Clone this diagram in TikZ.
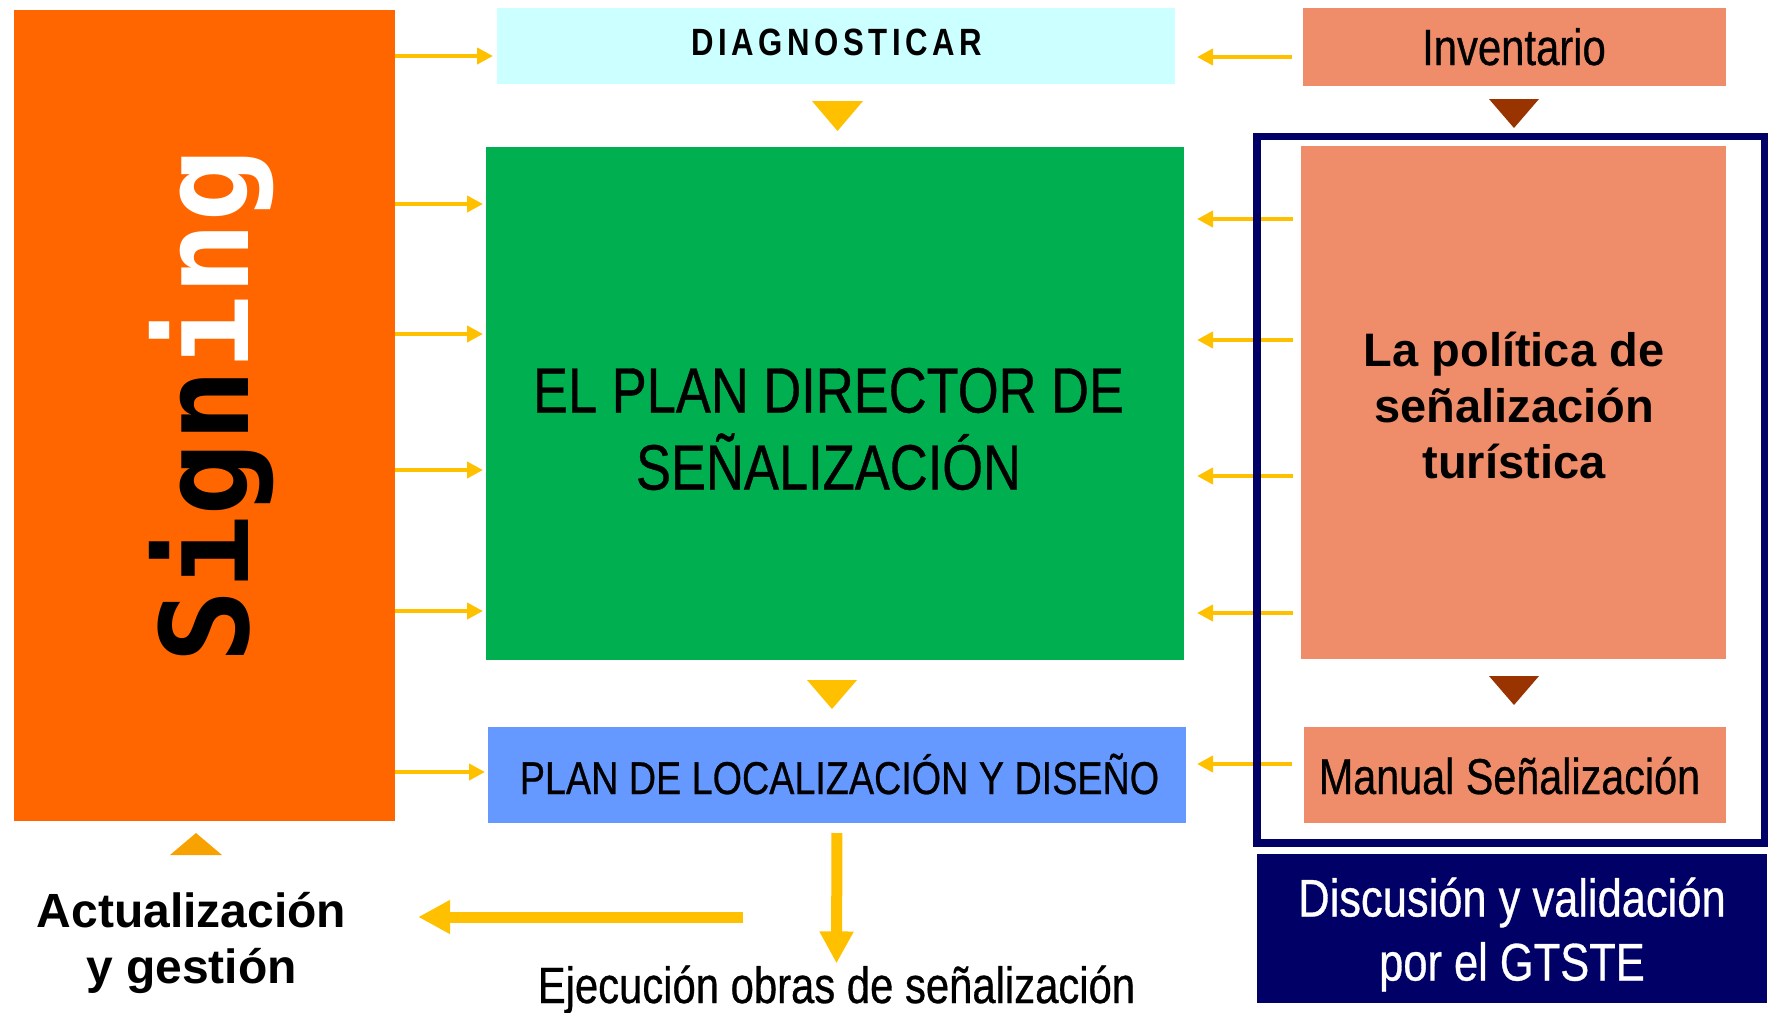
\documentclass[tikz,border=0pt]{standalone}
\usepackage{fontspec}
\setmainfont{Liberation Sans}
\newfontfamily\narrowfont[FakeStretch=0.82,FakeBold=0.6]{Liberation Sans}
\newfontfamily\diagfont[FakeStretch=0.82,LetterSpace=12]{Liberation Sans}
\newfontfamily\signfont{DejaVu Sans Mono}
\usetikzlibrary{arrows.meta}

\definecolor{signorange}{HTML}{FF6600}
\definecolor{diagcyan}{HTML}{CCFFFF}
\definecolor{invsalmon}{HTML}{EF8D6B}
\definecolor{plangreen}{HTML}{00B050}
\definecolor{locblue}{HTML}{6699FF}
\definecolor{gtnavy}{HTML}{000066}
\definecolor{arrowyellow}{HTML}{FFC000}
\definecolor{markbrown}{HTML}{993300}
\definecolor{markorange}{HTML}{F7A200}

\begin{document}
\begin{tikzpicture}[x=0.5pt, y=-0.5pt,
    box/.style={rectangle, inner sep=0pt, outer sep=0pt},
    txt/.style={inner sep=0pt, outer sep=0pt},
    inarrow/.style={draw=arrowyellow, line width=2.35pt, -{Triangle[length=8pt,width=8pt]}, shorten >=1.5pt},
    bigarrow/.style={draw=arrowyellow, line width=5.5pt, -{Triangle[length=16pt,width=16pt]}}]

    \useasboundingbox (0,0) rectangle (1769,1013);

    %===========================
    % Boxes
    %===========================

    \node (signbox) at (204.5,415.5) [box, fill=signorange, minimum width=190.5pt, minimum height=405.5pt]{};
    \node (diag) at (836,46) [box, fill=diagcyan, minimum width=339pt, minimum height=38pt]{};
    \node (inv) at (1514.5,47) [box, fill=invsalmon, minimum width=211.5pt, minimum height=39pt]{};
    \node (plan) at (835,403.5) [box, fill=plangreen, minimum width=349pt, minimum height=256.5pt]{};
    \node (politica) at (1513.5,402.5) [box, fill=invsalmon, minimum width=212.5pt, minimum height=256.5pt]{};
    \node (localiz) at (837,775) [box, fill=locblue, minimum width=349pt, minimum height=48pt]{};
    \node (manual) at (1515,775) [box, fill=invsalmon, minimum width=211pt, minimum height=48pt]{};
    \node (gtste) at (1512,928.5) [box, fill=gtnavy, minimum width=255pt, minimum height=74.5pt]{};


    %===========================
    % Texts
    %===========================

    \node (signtext) at (248,406) [txt, anchor=base, rotate=90, font=\signfont\bfseries\fontsize{61}{61}\selectfont]{\textcolor{black}{Sign}\textcolor{white}{ing}};
    \node (diagtext) at (836.5,55) [txt, anchor=base, font=\diagfont\bfseries\fontsize{19}{19}\selectfont]{DIAGNOSTICAR};
    \node (invtext) at (1514,65) [txt, anchor=base, font=\narrowfont\fontsize{25.5}{25.5}\selectfont]{Inventario};
    \node (plantext) at (828.5,429) [txt, align=center, font=\narrowfont\fontsize{32}{38.5}\selectfont]{EL PLAN DIRECTOR DE\\SEÑALIZACIÓN};
    \node (poltext) at (1514,405) [txt, align=center, font=\bfseries\fontsize{23.5}{28}\selectfont]{La política de\\señalización\\turística};
    \node (loctext) at (839.5,794) [txt, anchor=base, font=\narrowfont\fontsize{23}{23}\selectfont]{PLAN DE LOCALIZACIÓN Y DISEÑO};
    \node (mantext) at (1509.5,794) [txt, anchor=base, font=\narrowfont\fontsize{25.2}{25.2}\selectfont]{Manual Señalización};
    \node (gtext) at (1512,934.5) [txt, align=center, text=white, font=\narrowfont\fontsize{26.5}{32}\selectfont]{Discusión y validación\\por el GTSTE};
    \node (actual) at (191.5,942.5) [txt, align=center, font=\bfseries\fontsize{24}{28}\selectfont]{Actualización\\y gestión};
    \node (ejec) at (836.5,1003) [txt, anchor=base, font=\narrowfont\fontsize{25.5}{25.5}\selectfont]{Ejecución obras de señalización};


    %===========================
    % Markers
    %===========================

    \fill[arrowyellow] (812,101) -- (863,101) -- (837.5,131) -- cycle;
    \fill[arrowyellow] (807,680) -- (857,680) -- (832,709) -- cycle;
    \fill[markbrown] (1489,99) -- (1539,99) -- (1514,128) -- cycle;
    \fill[markbrown] (1489,676) -- (1539,676) -- (1514,705) -- cycle;
    \fill[markorange] (170,855) -- (222,855) -- (196,833) -- cycle;


    %===========================
    % Arrows
    %===========================

    % Left Side
    \draw[inarrow, shorten >=2pt] (signbox.east |- 0,56) -- (diag.west |- 0,56);
    \foreach \y in {204,334,470,611}
        \draw[inarrow] (signbox.east |- 0,\y) -- (plan.west |- 0,\y);
    \draw[inarrow] (signbox.east |- 0,772) -- (localiz.west |- 0,772);

    % Right Side
    \draw[inarrow, shorten <=5.5pt, shorten >=11pt] (inv.west |- 0,57) -- (diag.east |- 0,57);
    \foreach \y in {219,340,476,613}
        \draw[inarrow, shorten <=4pt, shorten >=6.5pt] (politica.west |- 0,\y) -- (plan.east |- 0,\y);
    \draw[inarrow, shorten <=6pt, shorten >=5.5pt] (manual.west |- 0,764) -- (localiz.east |- 0,764);

    % Bottom
    \draw[bigarrow, shorten <=5pt, shorten >=1pt] (localiz.south) -- (ejec.north);
    \coordinate (gostart) at (743,917);
    \draw[bigarrow, shorten >=36pt] (gostart) -- (actual.east |- gostart);

    % Frame
    \draw[gtnavy, line width=3.75pt] (1257,136.5) rectangle (1764.5,843);
\end{tikzpicture}
\end{document}
